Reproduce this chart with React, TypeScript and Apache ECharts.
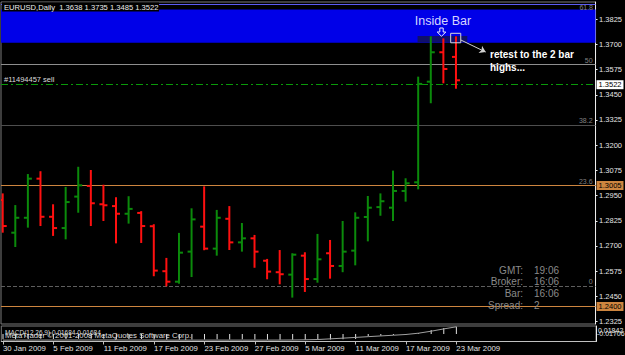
import React, { useEffect, useRef } from "react";
import * as echarts from "echarts";

// ---------- data ----------
const titleText = "EURUSD,Daily  1.3638 1.3735 1.3485 1.3522";
const dateLabels = [
  "30 Jan 2009", "5 Feb 2009", "11 Feb 2009", "17 Feb 2009", "23 Feb 2009",
  "27 Feb 2009", "5 Mar 2009", "11 Mar 2009", "17 Mar 2009", "23 Mar 2009",
];
const dateLabelBars = [0, 4, 8, 12, 16, 20, 24, 28, 32, 36];

const opens = [1.2928, 1.2766, 1.284, 1.3034, 1.2845, 1.2789, 1.2945, 1.2998, 1.2907, 1.2898, 1.286, 1.2864, 1.2798, 1.2575, 1.2523, 1.2672, 1.2796, 1.2687, 1.2835, 1.2718, 1.2738, 1.2627, 1.257, 1.2558, 1.2652, 1.2536, 1.2664, 1.2601, 1.2677, 1.2844, 1.2893, 1.289, 1.2973, 1.3016, 1.3515, 1.3661, 1.3638];
const highs = [1.2956, 1.2898, 1.3052, 1.3066, 1.2902, 1.2988, 1.3088, 1.3072, 1.2999, 1.2937, 1.2942, 1.2868, 1.2803, 1.2636, 1.276, 1.2882, 1.2991, 1.2874, 1.2893, 1.2809, 1.275, 1.2631, 1.2675, 1.2659, 1.2664, 1.2755, 1.2725, 1.2819, 1.2862, 1.2943, 1.2956, 1.3069, 1.3031, 1.3535, 1.3735, 1.3725, 1.3735];
const lows = [1.2771, 1.27, 1.2796, 1.2804, 1.2755, 1.2738, 1.287, 1.2804, 1.2829, 1.2718, 1.2816, 1.272, 1.2555, 1.2505, 1.2518, 1.2551, 1.2684, 1.2657, 1.2685, 1.2677, 1.2597, 1.254, 1.2515, 1.2449, 1.2477, 1.2523, 1.2543, 1.2575, 1.2609, 1.2728, 1.2855, 1.2829, 1.2925, 1.2986, 1.3413, 1.3512, 1.3485];
const closes = [1.2799, 1.284, 1.3034, 1.2845, 1.2789, 1.2918, 1.3001, 1.2912, 1.2902, 1.286, 1.2884, 1.2799, 1.2578, 1.2523, 1.2667, 1.2832, 1.2687, 1.284, 1.2718, 1.2738, 1.2672, 1.2573, 1.256, 1.2657, 1.2536, 1.2634, 1.2601, 1.2672, 1.284, 1.289, 1.2922, 1.2973, 1.3011, 1.3504, 1.3661, 1.3578, 1.3522];

const macdMain = [-0.0118, -0.0121, -0.0112, -0.011, -0.0114, -0.0111, -0.0106, -0.0108, -0.0109, -0.0113, -0.0112, -0.0116, -0.0124, -0.013, -0.0128, -0.0122, -0.0125, -0.0121, -0.0122, -0.0121, -0.0124, -0.0129, -0.0132, -0.0128, -0.013, -0.0126, -0.0124, -0.012, -0.0112, -0.0052, -0.004, -0.0024, -0.001, 0.002, 0.0092, 0.0137, 0.0168];
const macdSignal = [-0.014, -0.0139, -0.0139, -0.0138, -0.0138, -0.0137, -0.0137, -0.0136, -0.0136, -0.0136, -0.0137, -0.0137, -0.0138, -0.0139, -0.0139, -0.0139, -0.0139, -0.0139, -0.0139, -0.0139, -0.0139, -0.0139, -0.0138, -0.0136, -0.0132, -0.0125, -0.011, -0.0094, -0.0077, -0.006, -0.0043, -0.0027, -0.001, 0.002, 0.0065, 0.0118, 0.0166];
const macdLabelText = "MACD(12,26,9) 0.01684 0.01684";
const macdAxisLabels = ["0.01842", "-0.01706"];
const macdRange = [-0.01706, 0.01842];

const priceTicks = [1.2325, 1.245, 1.2575, 1.27, 1.2825, 1.295, 1.3075, 1.32, 1.3325, 1.345, 1.3575, 1.37, 1.3825];
const fibLevels = ["0", "23.6", "38.2", "50", "61.8"];
const fibPrices = [1.2467, 1.2998, 1.3326, 1.3592, 1.3857];
const priceLines = [1.3005, 1.24];
const sellPrice = 1.3488;
const sellTicket = "#11494457 sell";
const bidPrice = 1.3522;
const zone = [1.3708, 1.3873];
const insideBox = [[32.95, 1.371], [36.9, 1.3742]];
const markSquare = [[35.58, 1.3755], [36.38, 1.3708]];
const arrowPts = [[36.38, 1.3722], [38.36, 1.3662]];
const infoLabels = ["GMT:", "Broker:", "Bar:", "Spread:"];
const infoValues = ["19:06", "16:06", "16:06", "2"];
const copyright = "MetaTrader \u00A9 2001-2008 MetaQuotes Software Corp.";

// ---------- layout ----------
const FONT = "Liberation Sans, Arial, sans-serif";
const X_MIN = -0.135;
const X_MAX = 47.087;
const Y_MIN = 1.23131;
const Y_MAX = 1.39103;
const GREEN = "#0b8a0b";
const RED = "#ff1010";
const ORANGE = "#cd853f";

const fibLineStyles = [
  { color: "#5e5e5e", type: "dashed", width: 1 },
  { color: "#6a6a6a", type: "solid", width: 1 },
  { color: "#4e4e4e", type: "solid", width: 1 },
  { color: "#8e8e8e", type: "solid", width: 1 },
  { color: "#5c5cf4", type: "solid", width: 1 },
];

function txt(x: number, y: number, text: string, opts: any = {}) {
  const align = opts.align || "left";
  return {
    type: "text",
    z: 101,
    x,
    y,
    silent: true,
    style: {
      text,
      fill: opts.fill || "#e0e0e0",
      fontSize: opts.fontSize || 8,
      fontFamily: FONT,
      fontWeight: opts.fontWeight || "normal",
      align,
      textAlign: align,
      verticalAlign: "middle",
      textVerticalAlign: "middle",
    },
  };
}

export default function App() {
  const ref = useRef<HTMLDivElement>(null);

  useEffect(() => {
    if (!ref.current) return;
    const chart = echarts.init(ref.current, null, { renderer: "svg" });

    const ohlc = opens.map((o, i) => [i, o, highs[i], lows[i], closes[i]]);

    const boxLabel = (text: string, bg: string, fg: string) => ({
      show: true,
      position: "end",
      formatter: text,
      distance: 1,
      backgroundColor: bg,
      color: fg,
      fontSize: 7.5,
      lineHeight: 8,
      padding: [1, 2, 0, 2],
      fontFamily: FONT,
    });

    const topFib = fibLevels.length - 1;
    const fibMarks = fibPrices.map((p, i) => ({
      yAxis: p,
      lineStyle: fibLineStyles[i],
      label: {
        show: i !== topFib,
        position: "insideEndTop",
        formatter: fibLevels[i],
        color: "#808080",
        fontSize: 7,
        distance: [3, 1],
        fontFamily: FONT,
      },
    }));

    const option: any = {
      animation: false,
      backgroundColor: "#000000",
      textStyle: { fontFamily: FONT },
      grid: [
        { left: 1, right: 29, top: 2, height: 322, show: true, borderColor: "#7a7a7a", borderWidth: 1, backgroundColor: "transparent" },
        { left: 1, right: 29, top: 326, height: 15.5, show: true, borderColor: "#7a7a7a", borderWidth: 1, backgroundColor: "transparent" },
      ],
      xAxis: [
        { gridIndex: 0, type: "value", min: X_MIN, max: X_MAX, show: false },
        {
          gridIndex: 1,
          type: "value",
          min: X_MIN,
          max: X_MAX,
          axisLine: { show: true, onZero: false, lineStyle: { color: "#c0c0c0" } },
          axisTick: { show: true, customValues: dateLabelBars, length: 3, lineStyle: { color: "#c0c0c0" } },
          axisLabel: {
            customValues: dateLabelBars,
            formatter: (v: number) => dateLabels[dateLabelBars.indexOf(Math.round(v))] || "",
            align: "left",
            color: "#e0e0e0",
            fontSize: 7.8,
            margin: 3,
            fontFamily: FONT,
          },
          splitLine: { show: false },
        },
      ],
      yAxis: [
        {
          gridIndex: 0,
          type: "value",
          position: "right",
          min: Y_MIN,
          max: Y_MAX,
          axisLine: { show: true, onZero: false, lineStyle: { color: "#ececec" } },
          axisTick: { show: true, customValues: priceTicks, length: 2, lineStyle: { color: "#ececec" } },
          axisLabel: {
            customValues: priceTicks,
            formatter: (v: number) => v.toFixed(4),
            color: "#e4e4e4",
            fontSize: 7.5,
            margin: 3.5,
            fontFamily: FONT,
          },
          splitLine: { show: false },
        },
        {
          gridIndex: 1,
          type: "value",
          position: "right",
          min: macdRange[0],
          max: macdRange[1],
          axisLine: { show: true, onZero: false, lineStyle: { color: "#ececec" } },
          axisTick: { show: false },
          axisLabel: { show: false },
          splitLine: { show: false },
        },
      ],
      series: [
        {
          type: "line",
          name: "zones",
          xAxisIndex: 0,
          yAxisIndex: 0,
          data: [],
          z: 1,
          silent: true,
          clip: false,
          markArea: {
            silent: true,
            z: 1,
            data: [
              [{ yAxis: zone[1], itemStyle: { color: "#0000e8" } }, { yAxis: zone[0] }],
              [
                { coord: insideBox[0], itemStyle: { color: "#10106a" } },
                { coord: insideBox[1] },
              ],
            ],
          },
        },
        {
          type: "line",
          name: "levels",
          xAxisIndex: 0,
          yAxisIndex: 0,
          data: [],
          z: 2,
          silent: true,
          clip: false,
          markLine: {
            silent: true,
            z: 3,
            symbol: ["none", "none"],
            data: [
              ...fibMarks,
              ...priceLines.map((p) => ({
                yAxis: p,
                lineStyle: { color: ORANGE, width: 1, type: "solid" },
                label: boxLabel(p.toFixed(4), ORANGE, "#000000"),
              })),
              {
                yAxis: sellPrice,
                lineStyle: { color: "#0a9a0a", width: 1, type: [7, 3, 2, 3] },
                label: {
                  show: true,
                  position: "insideStartTop",
                  formatter: sellTicket,
                  color: "#dcdcdc",
                  fontSize: 7.5,
                  distance: [3, 1],
                  fontFamily: FONT,
                },
              },
              {
                yAxis: bidPrice,
                lineStyle: { color: "rgba(0,0,0,0)", width: 0 },
                label: boxLabel(bidPrice.toFixed(4), "#ffffff", "#000000"),
              },
            ],
          },
        },
        {
          type: "custom",
          name: "EURUSD",
          xAxisIndex: 0,
          yAxisIndex: 0,
          z: 10,
          clip: true,
          data: ohlc,
          encode: { x: 0, y: [1, 2, 3, 4] },
          renderItem: (params: any, api: any) => {
            const x = api.value(0);
            const o = api.value(1);
            const h = api.value(2);
            const l = api.value(3);
            const c = api.value(4);
            const pH = api.coord([x, h]);
            const pL = api.coord([x, l]);
            const pO = api.coord([x, o]);
            const pC = api.coord([x, c]);
            const color = c >= o ? GREEN : RED;
            const st = { stroke: color, lineWidth: 2 };
            return {
              type: "group",
              children: [
                { type: "line", shape: { x1: pH[0], y1: pH[1] - 1, x2: pL[0], y2: pL[1] + 1 }, style: st },
                { type: "line", shape: { x1: pO[0] - 4, y1: pO[1], x2: pO[0], y2: pO[1] }, style: st },
                { type: "line", shape: { x1: pC[0], y1: pC[1], x2: pC[0] + 4, y2: pC[1] }, style: st },
              ],
            };
          },
        },
        {
          type: "line",
          name: "annotations",
          xAxisIndex: 0,
          yAxisIndex: 0,
          data: [],
          z: 11,
          silent: true,
          clip: false,
          markArea: {
            silent: true,
            z: 11,
            data: [
              [
                { coord: markSquare[0], itemStyle: { color: "rgba(0,0,0,0)", borderColor: "#d8d8d8", borderWidth: 1 } },
                { coord: markSquare[1] },
              ],
            ],
          },
          markLine: {
            silent: true,
            z: 11,
            symbol: ["none", "arrow"],
            symbolSize: 6,
            label: { show: false },
            lineStyle: { color: "#d0d0d0", width: 1, type: "solid" },
            data: [[{ coord: arrowPts[0] }, { coord: arrowPts[1] }]],
          },
        },
        {
          type: "bar",
          name: "MACD",
          xAxisIndex: 1,
          yAxisIndex: 1,
          barWidth: 1,
          itemStyle: { color: "#e2e2e2" },
          data: macdMain.map((v, i) => [i, v]),
          z: 3,
        },
        {
          type: "line",
          name: "Signal",
          xAxisIndex: 1,
          yAxisIndex: 1,
          showSymbol: false,
          symbol: "none",
          lineStyle: { color: "#a0a0a0", width: 1 },
          data: macdSignal.map((v, i) => [i, v]),
          z: 4,
        },
      ],
      graphic: [
        { type: "rect", z: 100, silent: true, shape: { x: 2, y: 2.5, width: 157, height: 9 }, style: { fill: "#000000" } },
        txt(4, 7.3, titleText, { fill: "#ececec", fontSize: 7.6 }),
        txt(593, 7, fibLevels[topFib], { fill: "#808080", fontSize: 7, align: "right" }),
        txt(443, 21, "Inside Bar", { fill: "#d6d6ff", fontSize: 12.5, align: "center" }),
        {
          type: "polygon",
          z: 101,
          silent: true,
          shape: { points: [[439.8, 28], [443.2, 28], [443.2, 32], [445.8, 32], [441.5, 36.3], [437.2, 32], [439.8, 32]] },
          style: { fill: "#0000e8", stroke: "#eeeeff", lineWidth: 1 },
        },
        txt(490, 54, "retest to the 2 bar", { fill: "#ffffff", fontSize: 10, fontWeight: "bold" }),
        txt(490, 67, "highs...", { fill: "#ffffff", fontSize: 10, fontWeight: "bold" }),
        ...infoLabels.map((t, i) => txt(523, 270 + i * 11.8, t, { fill: "#8a8a8a", fontSize: 10, align: "right" })),
        ...infoValues.map((t, i) => txt(534, 270 + i * 11.8, t, { fill: "#8a8a8a", fontSize: 10 })),
        txt(5, 332.5, macdLabelText, { fill: "#dcdcdc", fontSize: 6.5 }),
        txt(5, 335.3, copyright, { fill: "#dcdcdc", fontSize: 7.8 }),
        txt(598, 330, macdAxisLabels[0], { fill: "#e4e4e4", fontSize: 7 }),
        txt(597, 333.5, macdAxisLabels[1], { fill: "#e4e4e4", fontSize: 7 }),
      ],
    };

    chart.setOption(option);
    return () => chart.dispose();
  }, []);

  return (
    <div
      ref={ref}
      style={{ position: "fixed", left: 0, top: 0, width: 625, height: 355, background: "#000" }}
    />
  );
}
